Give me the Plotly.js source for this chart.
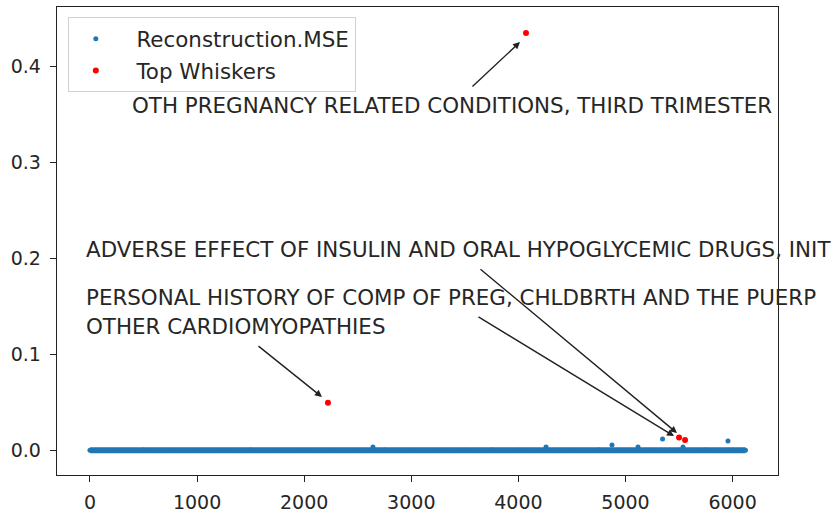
<!DOCTYPE html>
<html>
<head>
<meta charset="utf-8">
<script src="https://cdn.plot.ly/plotly-3.0.1.min.js"></script>
<style>html,body{margin:0;padding:0;background:#fff;}#chart{width:831px;height:512px;}</style>
</head>
<body>
<div id="chart"></div>
<script>
// Reconstruction MSE per row index (baseline samples along the dense band)
const baseIdx = [0, 250, 500, 750, 1000, 1250, 1500, 1750, 2000, 2250, 2500, 2750, 3000, 3250, 3500, 3750, 4000, 4250, 4500, 4750, 5000, 5250, 5500, 5750, 6000, 6120];
const baseMSE = [0.0004, 0.0003, 0.0005, 0.0004, 0.0003, 0.0004, 0.0005, 0.0003, 0.0004, 0.0004, 0.0003, 0.0005, 0.0004, 0.0003, 0.0004, 0.0005, 0.0004, 0.0003, 0.0004, 0.0005, 0.0004, 0.0003, 0.0004, 0.0005, 0.0004, 0.0003];
// Visible blue outliers
const outIdx = [2642, 4258, 4874, 5117, 5346, 5537, 5957];
const outMSE = [0.0036, 0.0036, 0.0057, 0.0036, 0.0120, 0.0036, 0.0099];
// Top whiskers (red)
const topIdx = [2222, 4071, 5500, 5556];
const topMSE = [0.0498, 0.4351, 0.0135, 0.0109];
// Annotation labels
const labels = [
  "OTH PREGNANCY RELATED CONDITIONS, THIRD TRIMESTER",
  "ADVERSE EFFECT OF INSULIN AND ORAL HYPOGLYCEMIC DRUGS, INIT",
  "PERSONAL HISTORY OF COMP OF PREG, CHLDBRTH AND THE PUERP",
  "OTHER CARDIOMYOPATHIES"
];
const labelPos = [[375, 0.360], [-55, 0.209], [-55, 0.159], [-55, 0.129]];
const arrowTail = [[3557, 0.3778], [3632, 0.1902], [3613, 0.1402], [1559, 0.1100]];
const arrowHead = [[4015, 0.4257], [5481, 0.0182], [5453, 0.0151], [2166, 0.0558]];
const xTicks = [0, 1000, 2000, 3000, 4000, 5000, 6000];
const yTicks = [0.0, 0.1, 0.2, 0.3, 0.4];
const seriesNames = ['Reconstruction.MSE', 'Top Whiskers'];

const blue = '#1f77b4';
const txt = '#262626';
const font = 'DejaVu Sans, sans-serif';
const pad = '\u00a0\u00a0';

const traces = [
  {x: baseIdx, y: baseMSE, type: 'scatter', mode: 'lines', line: {color: blue, width: 6},
   showlegend: false, hoverinfo: 'skip', legendgroup: 'mse'},
  {x: baseIdx.concat(outIdx), y: baseMSE.concat(outMSE), type: 'scatter', mode: 'markers',
   name: pad + seriesNames[0], legendgroup: 'mse', marker: {color: blue, size: 5}},
  {x: topIdx, y: topMSE, type: 'scatter', mode: 'markers', name: pad + seriesNames[1],
   legendgroup: 'top', marker: {color: '#ff0000', size: 6}}
];

const annotations = [];
labels.forEach((t, i) => {
  annotations.push({x: labelPos[i][0], y: labelPos[i][1], xref: 'x', yref: 'y', text: t,
    showarrow: false, xanchor: 'left', yanchor: 'middle', font: {family: font, size: 21.4, color: txt}});
});
arrowHead.forEach((h, i) => {
  annotations.push({x: h[0], y: h[1], xref: 'x', yref: 'y', ax: arrowTail[i][0], ay: arrowTail[i][1],
    axref: 'x', ayref: 'y', text: '', showarrow: true, arrowhead: 2, arrowsize: 1, arrowwidth: 1.4,
    arrowcolor: '#222', standoff: 0, startstandoff: 0});
});

const layout = {
  width: 831, height: 512,
  margin: {l: 57, r: 53, t: 7, b: 37},
  paper_bgcolor: '#fff', plot_bgcolor: '#fff',
  font: {family: font, color: txt},
  showlegend: true,
  legend: {x: 0.015, y: 0.978, xanchor: 'left', yanchor: 'top', bgcolor: 'rgba(255,255,255,0.8)',
    bordercolor: '#d0d0d0', borderwidth: 1, font: {family: font, size: 21.4, color: txt},
    itemwidth: 44, tracegroupgap: 1},
  xaxis: {range: [-308, 6424], tickvals: xTicks, ticktext: xTicks.map(String), showgrid: false, zeroline: false,
    showline: true, mirror: true, linecolor: '#222', linewidth: 1.3, ticks: 'outside', ticklen: 6,
    tickcolor: '#222', ticklabelstandoff: 4, tickfont: {family: font, size: 19, color: txt}},
  yaxis: {range: [-0.0255, 0.4622], tickvals: yTicks, ticktext: yTicks.map(v => v.toFixed(1)), showgrid: false,
    zeroline: false, showline: true, mirror: true, linecolor: '#222', linewidth: 1.3, ticks: 'outside',
    ticklen: 6, tickcolor: '#222', ticklabelstandoff: 5, tickfont: {family: font, size: 19, color: txt}},
  annotations: annotations
};

Plotly.newPlot('chart', traces, layout, {displayModeBar: false, staticPlot: true});
</script>
</body>
</html>
